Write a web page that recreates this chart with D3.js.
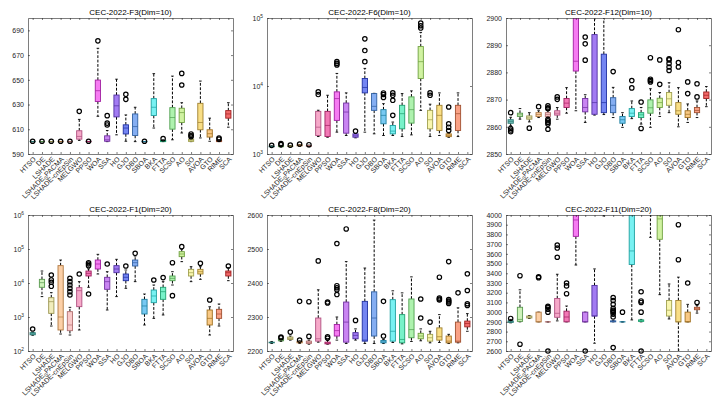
<!DOCTYPE html>
<html>
<head>
<meta charset="utf-8">
<script src="https://cdn.jsdelivr.net/npm/d3@7"></script>
<style>
body { margin: 0; background: #fff; }
svg text { font-family: "Liberation Sans", Arial, sans-serif; }
.axis path, .axis line { stroke: #262626; stroke-width: 0.6; }
</style>
</head>
<body>
<div id="chart"></div>
<script>

var algos = ['HTSO','DE','LSHADE','LSHADE_SPACMA','LSHADE-cnEpSin','MELGWO','PPSO','WOA','SSA','HO','GJO',
             'DBO','SBOA','BKA','FTTA','SCSO','AO','SO','AVOA','GTO','RIME','SCA'];

// [lower whisker, q1, median, q3, upper whisker] per algorithm
var f3Box = [[600,600,600,600,600],[600,600,600,600,600],[600,600,600,600,600],[600,600,600,600,600],[600,600,600,600,600],
  [601,602,604.2,608.8,618],[600,600,600,600,600],[620.5,632.5,641.2,649.8,675.5],[600,600.3,601.5,604.7,609],
  [605.5,620,629,637.7,650.5],[600.3,606.2,611,613.6,621.6],[600,605,612.2,622.4,627.8],[600,600,600,600,600],
  [611,621.1,627.8,634.8,655],[600,600,600.3,601,601.5],[601.5,610.1,619.5,627.5,653],[607,615.5,623.5,627,631.5],
  [600,600.2,601,602,603],[603,609.6,615.5,631,649],[600.3,603.7,606.4,609.6,619],[600,600,600.5,601,601.5],
  [611.7,619,622.4,625.1,631.5]];
var f3Out = [[600.3],[600.3],[600.3],[600.3],[600.3],[624.5],[600.3],[681.5],[613.5,615,621],[],[634.2,638.3],[],[600.3],
  [],[602.4],[],[645.8,655.2],[604,605,606.2],[],[],[602,603],[]];

var f6Box = [[1260,1275,1290,1300,1320],[1260,1280,1300,1320,1340],[1270,1290,1300,1310,1330],[1300,1320,1340,1360,1380],
  [1280,1300,1315,1330,1350],[1806,1870,2480,4240,4400],[1765,1806,2630,4240,7310],[2095,3120,6530,8200,15300],
  [1870,2024,4140,5620,7920],[1730,1765,1850,1977,2000],[2095,7920,9510,12900,18150],[1980,4385,5020,7740,7800],
  [1870,2780,3700,4490,5500],[1870,1977,2170,2630,2950],[1806,2345,3920,5200,7740],[1910,2845,4490,6920,8480],
  [4385,12900,22800,38000,61400],[1806,2345,3190,4385,5400],[1870,2218,3700,5200,7920],[1760,1800,1880,1977,2000],
  [1806,2218,3920,5200,7920],[200000,300000,400000,500000,600000]];
var f6Out = [[1340],[1380,1420],[1350],[1400],[1370],[7480,8200],[],[20400,21500,22800],[],[2170],[22800,33200,49400],[],
  [6800,7500,7900],[3700,6160,7300,7920],[],[],[71100,77000,84300],[7300,7920],[],[2220,2480,2780,4910],[],[]];

var f12Box = [[2860.4,2861.3,2862,2862.6,2863.5],[2862.8,2863.8,2864.4,2865,2866.7],[2861.8,2862.8,2863.3,2864,2865.2],
  [2863.4,2863.8,2864.5,2865.2,2865.9],[2863.4,2863.8,2864.5,2865.2,2866],[2862.8,2864.3,2865,2865.9,2867.1],
  [2865,2867.1,2868.7,2870.4,2874.4],[2865.9,2880.5,2884.1,2905,2930],[2861.6,2865.5,2867.1,2870.4,2871.8],
  [2864.3,2864.6,2868.9,2893.9,2920],[2864.5,2865.2,2868.9,2886.7,2915],[2863.4,2865.2,2867.9,2870.7,2874.5],
  [2859.8,2861.3,2862.6,2863.8,2865.2],[2863,2863.8,2865,2866.7,2869.5],[2861,2863.4,2864.4,2865.2,2867.1],
  [2859.8,2865,2867,2869.9,2874],[2863.8,2867.1,2868.9,2870.5,2872.6],[2865.2,2867.9,2870.3,2872.6,2876.2],
  [2860,2864.6,2865.9,2868.9,2874.4],[2861.6,2863.4,2864.6,2865.9,2868.4],[2863.4,2865.2,2866,2867.1,2869.5],
  [2867.4,2870.4,2871.6,2872.8,2874.8]];
var f12Out = [[2858.2,2858.8,2859.4,2865.2],[],[2859.5],[2867.4],[2859.1,2861,2861.6,2862.2,2862.8,2866.6,2867,2867.7],
  [2870.1,2871],[],[],[2884.5,2890.5,2893],[],[],[2880.3],[],[2874.3,2877],[2859.4,2869.1],[2876.5,2877,2877.5,2885.4],
  [2875.6,2884.6],[2880.7,2882,2883.3,2884.6,2885],[2882,2883.6,2895.7],[2872.2,2876.5],[2871,2875.8],[]];

var f1Box = [[290,300,320,346,350],[3980,7470,10230,12800,22500],[543,1280,2825,3700,5200],[316,415,1000,32400,47400],
  [295,396,582,1436,1920],[415,2015,5960,7290,10960],[7470,16070,19200,22500,26000],[18400,25800,36200,47400,69700],
  [1607,6520,10960,14700,21500],[3980,20100,25800,32400,49700],[6970,11700,14700,18400,24100],[10960,31600,39600,47400,62200],
  [582,1225,2110,3310,4740],[912,2640,4150,6220,8730],[1146,3310,5560,7470,10960],[8730,11700,13700,16070,21500],
  [42400,59600,71300,83600,97700],[10960,16070,20100,25200,30200],[12800,18400,21500,25200,30200],[295,582,912,1607,2000],
  [543,912,1225,1680,2410],[11700,16070,20100,22500,28200]];
var f1Out = [[443],[],[8000,10500,12300,17200],[],[4440,5560,6970,8710,10960,13700],[18400],[4740,32400,36200,39600],[],
  [36200],[],[31600],[74600],[],[12250],[14400],[4240,39600],[117200],[],[37900],[3160],[],[31600]];

var f8Box = [[2222,2224,2225,2226,2228],[2228,2230,2233,2235,2237],[2232,2234,2237,2241,2244],[2222,2224,2226,2228,2230],
  [2220,2222,2225,2229,2232],[2226,2229,2236,2297,2380],[2220,2221,2223,2226,2232],[2232,2244,2260,2278,2300],
  [2222,2226,2285,2344,2463],[2232,2236,2246,2254,2265],[2222,2229,2232,2346,2444],[2222,2244,2297,2374,2585],
  [2222,2224,2227,2231,2234],[2225,2229,2258,2351,2377],[2221,2224,2234,2307,2371],[2228,2239,2263,2353,2418],
  [2230,2236,2244,2252,2265],[2224,2229,2239,2249,2258],[2225,2232,2242,2268,2307],[2222,2224,2229,2244,2249],
  [2224,2226,2229,2285,2327],[2258,2271,2281,2288,2310]];
var f8Out = [[],[2239,2241],[2255.6],[2232,2346],[2243,2345],[2465],[2238,2242,2341,2344],[2366,2380,2386,2392,2516],[2559],
  [2290],[],[],[2244,2346],[],[],[],[2297,2353],[2285],[2350,2353,2356,2417],[2340,2344,2347,2351,2463],[2371],
  [2334,2339,2378,2427]];

var f11Box = [[2890,2895,2900,2910,2925],[2900,2905,2925,3050,3230],[2935,2940,2950,2960,2965],[2900,2900,2900,3000,3000],
  [2900,2900,2900,2900,2900],[2910,2947,2988,3140,3390],[2900,2900,2950,3010,3063],[3485,3780,3949,4100,4300],
  [2900,2900,2900,3000,3000],[2680,2960,2960,3275,3445],[3990,4200,4500,4800,5000],[2900,2900,2905,2910,2915],
  [2900,2900,2900,2900,2900],[2920,3490,3630,4100,4500],[2900,2905,2910,2920,2925],[3770,4100,4300,4500,4800],
  [3180,3750,3960,4100,4400],[2930,2960,3020,3120,3290],[2550,2900,2900,3120,3360],[2900,2900,2900,3000,3080],
  [2990,3025,3040,3050,3070],[4500,4600,4700,4800,4900]];
var f11Out = [[2935],[2670,3375],[],[3355,3365],[2600,3000,3030,3050,3060],[3565,3660,3690],[3190,3270,3300],[],[2600],[],[],
  [2635,2950,2980,3000,3010,3020,3040,3080,3120,3150],[3000],[],[2600,3000,3100,3115,3210],[],[],[],[3540,3900],[3300],[3100],[]];

var f3Ticks = [590,610,630,650,670,690];
var f6Ticks = [1e3,1e4,1e5];
var f12Ticks = [2850,2860,2870,2880,2890,2900];
var f1Ticks = [1e2,1e3,1e4,1e5,1e6];
var f8Ticks = [2200,2300,2400,2500,2600];
var f11Ticks = d3.range(2600,4001,100);

var panels = [
  {title:'CEC-2022-F3(Dim=10)', box:f3Box, out:f3Out, log:false, domain:[590,700], ticks:f3Ticks},
  {title:'CEC-2022-F6(Dim=10)', box:f6Box, out:f6Out, log:true, domain:[1e3,1e5], ticks:f6Ticks},
  {title:'CEC-2022-F12(Dim=10)', box:f12Box, out:f12Out, log:false, domain:[2850,2900], ticks:f12Ticks},
  {title:'CEC-2022-F1(Dim=20)', box:f1Box, out:f1Out, log:true, domain:[1e2,1e6], ticks:f1Ticks},
  {title:'CEC-2022-F8(Dim=20)', box:f8Box, out:f8Out, log:false, domain:[2200,2600], ticks:f8Ticks},
  {title:'CEC-2022-F11(Dim=20)', box:f11Box, out:f11Out, log:false, domain:[2600,4000], ticks:f11Ticks}
];

// fill / edge colours, one per algorithm
var fills = ['#5fbcb4','#c6f0ae','#eeeab0','#fcc898','#f8c0c0','#f49ac0','#f060a8','#f464f0','#c070f0','#9264f0','#5c70f0',
  '#70a0f0','#60c0f0','#60eef0','#60f0c0','#a0f0a0','#c8f090','#f8f4a0','#f8d870','#f8c070','#f89070','#f05050'];
var edges = ['#2a7a74','#5a9a50','#9a9450','#b07840','#b07070','#b05080','#a02060','#a020a0','#7030a0','#5030a0','#2030a0',
  '#3060a0','#2080a0','#20a0a0','#20a070','#50a050','#70a040','#a0a050','#a08030','#a07020','#a05030','#a02020'];

var W = 721, H = 407;
var pw = 205, ph = 136;
var lefts = [28, 267, 506], tops = [18, 215];

var svg = d3.select('#chart').append('svg').attr('width', W).attr('height', H);

panels.forEach(function(p, i) {
  var left = lefts[i % 3], top = tops[Math.floor(i / 3)];
  var bottom = top + ph, right = left + pw;

  var x = d3.scalePoint().domain(algos).range([left, right]).padding(0.5);
  var y = (p.log ? d3.scaleLog() : d3.scaleLinear()).domain(p.domain).range([bottom, top]);
  var bw = x.step() * 0.56;

  var clipId = 'clip' + i;
  svg.append('clipPath').attr('id', clipId)
    .append('rect').attr('x', left).attr('y', top).attr('width', pw).attr('height', ph);

  var g = svg.append('g').attr('clip-path', 'url(#' + clipId + ')');

  var item = g.selectAll('.item').data(p.box).enter().append('g');

  // whiskers
  item.append('line')
    .attr('x1', function(d, j) { return x(algos[j]); })
    .attr('x2', function(d, j) { return x(algos[j]); })
    .attr('y1', function(d) { return y(d[3]); })
    .attr('y2', function(d) { return y(d[4]); })
    .attr('stroke', '#000').attr('stroke-width', 1).attr('stroke-dasharray', '2.8,1.6');
  item.append('line')
    .attr('x1', function(d, j) { return x(algos[j]); })
    .attr('x2', function(d, j) { return x(algos[j]); })
    .attr('y1', function(d) { return y(d[1]); })
    .attr('y2', function(d) { return y(d[0]); })
    .attr('stroke', '#000').attr('stroke-width', 1).attr('stroke-dasharray', '2.8,1.6');
  [0, 4].forEach(function(k) {
    item.append('line')
      .attr('x1', function(d, j) { return x(algos[j]) - 1.3; })
      .attr('x2', function(d, j) { return x(algos[j]) + 1.3; })
      .attr('y1', function(d) { return y(d[k]); })
      .attr('y2', function(d) { return y(d[k]); })
      .attr('stroke', '#000').attr('stroke-width', 0.9);
  });

  // boxes
  item.append('rect')
    .attr('x', function(d, j) { return x(algos[j]) - bw / 2; })
    .attr('y', function(d) { return y(d[3]); })
    .attr('width', bw)
    .attr('height', function(d) { return Math.max(0.01, y(d[1]) - y(d[3])); })
    .attr('fill', function(d, j) { return fills[j]; })
    .attr('fill-opacity', 0.85)
    .attr('stroke', function(d, j) { return edges[j]; })
    .attr('stroke-width', 0.9);

  item.append('line')
    .attr('x1', function(d, j) { return x(algos[j]) - bw / 2; })
    .attr('x2', function(d, j) { return x(algos[j]) + bw / 2; })
    .attr('y1', function(d) { return y(d[2]); })
    .attr('y2', function(d) { return y(d[2]); })
    .attr('stroke', function(d, j) { return edges[j]; })
    .attr('stroke-width', 0.7);

  // outliers (whole marker shown if centre lies inside the axes)
  var pts = [];
  p.out.forEach(function(arr, j) {
    arr.forEach(function(v) {
      if (v >= p.domain[0] && v <= p.domain[1]) pts.push({a: algos[j], v: v});
    });
  });
  svg.append('g').selectAll('circle').data(pts).enter().append('circle')
    .attr('cx', function(d) { return x(d.a); })
    .attr('cy', function(d) { return y(d.v); })
    .attr('r', 2.2)
    .attr('fill', 'none')
    .attr('stroke', '#000')
    .attr('stroke-width', 1.2);

  // axes (box on, ticks inward)
  svg.append('g').attr('class', 'axis').attr('transform', 'translate(0,' + bottom + ')')
    .call(d3.axisBottom(x).tickSizeInner(-2).tickSizeOuter(0).tickFormat(''));
  svg.append('g').attr('class', 'axis').attr('transform', 'translate(0,' + top + ')')
    .call(d3.axisTop(x).tickSizeInner(-2).tickSizeOuter(0).tickFormat(''));
  svg.append('g').attr('class', 'axis').attr('transform', 'translate(' + right + ',0)')
    .call(d3.axisRight(y).tickValues(p.ticks).tickSizeInner(-2).tickSizeOuter(0).tickFormat(''));

  var ya = svg.append('g').attr('class', 'axis').attr('transform', 'translate(' + left + ',0)')
    .call(d3.axisLeft(y).tickValues(p.ticks).tickSizeInner(-2).tickSizeOuter(0).tickPadding(4)
      .tickFormat(function(d) { return p.log ? '10' : d; }));
  ya.selectAll('text').attr('fill', '#262626').style('font-size', '7px');
  if (p.log) {
    ya.selectAll('.tick text').append('tspan')
      .attr('dy', '-0.55em').style('font-size', '4.8px')
      .text(function(d) { return Math.round(Math.log10(d)); });
  }

  // rotated category labels
  var lab = svg.append('g').selectAll('text').data(algos).enter().append('text')
    .attr('transform', function(d) { return 'translate(' + (x(d) + 2) + ',' + (bottom + 4) + ') rotate(-45)'; })
    .attr('text-anchor', 'end')
    .attr('dy', '0.35em')
    .attr('fill', '#262626')
    .style('font-size', '7px');
  lab.each(function(d) {
    var t = d3.select(this), parts = d.split('_');
    if (parts.length === 1) { t.text(d); return; }
    t.append('tspan').text(parts[0]);
    t.append('tspan').attr('dy', '1.5').style('font-size', '4.8px').text(parts[1].charAt(0));
    t.append('tspan').attr('dy', '-1.5').text(parts[1].slice(1));
  });

  svg.append('text')
    .attr('x', (left + right) / 2)
    .attr('y', top - 3)
    .attr('text-anchor', 'middle')
    .attr('fill', '#000')
    .style('font-size', '8px')
    .text(p.title);
});

</script>
</body>
</html>
